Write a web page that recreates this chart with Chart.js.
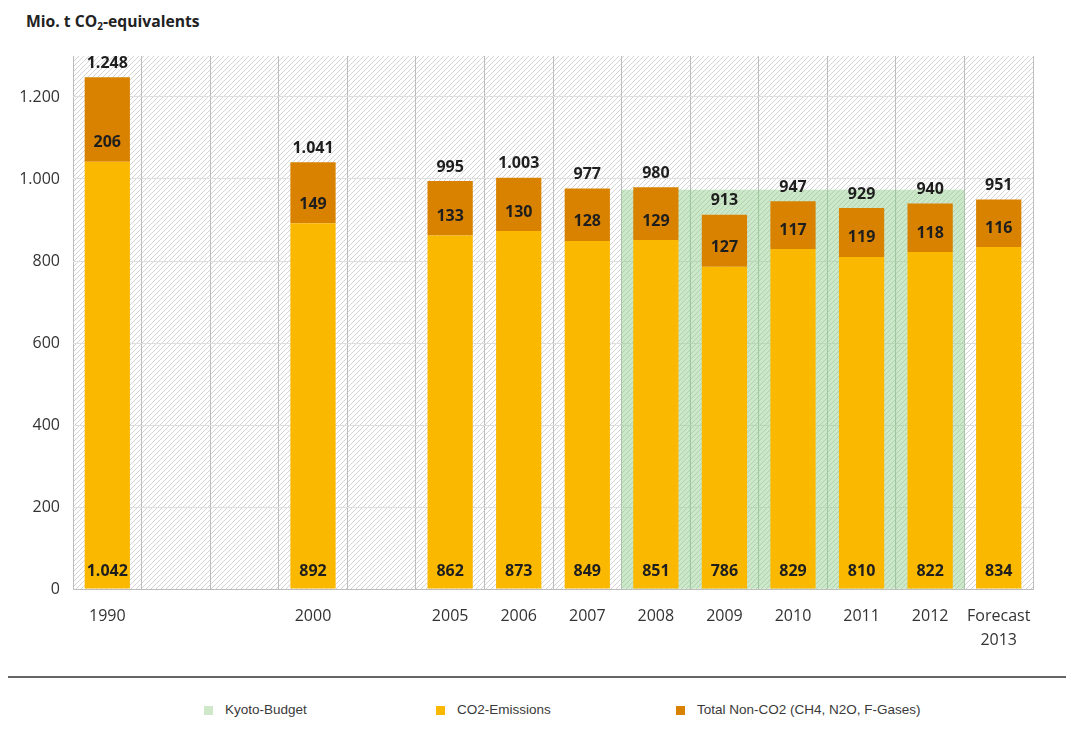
<!DOCTYPE html>
<html>
<head>
<meta charset="utf-8">
<script src="https://cdn.jsdelivr.net/npm/chart.js@4.4.1/dist/chart.umd.min.js"></script>
<style>
  body { margin: 0; background: #fff; width: 1074px; height: 736px; position: relative; overflow: hidden; font-family: "Open Sans", sans-serif; }
  #title { position: absolute; left: 26px; top: 10px; font-weight: bold; font-size: 15.7px; color: #222; }
  #title sub { font-size: 10px; vertical-align: -3px; line-height: 0; }
  #wrap { position: absolute; left: 0; top: 0; width: 1074px; height: 665px; }
  #legend { position: absolute; left: 8px; top: 676px; width: 1058px; height: 60px; border-top: 2px solid #666; }
  .item { position: absolute; top: 24px; font-family: "Liberation Sans Narrow", sans-serif; font-size: 13.5px; color: #3a3a3a; white-space: nowrap; }
  .item .box { display: inline-block; width: 9px; height: 9px; margin-right: 12px; vertical-align: -1px; }
</style>
</head>
<body>
<div id="title">Mio. t CO<sub>2</sub>-equivalents</div>
<div id="wrap"><canvas id="chart"></canvas></div>
<div id="legend"></div>
<script>
// values (Mio. t CO2-equivalents)
const categories = ['1990', '', '', '2000', '', '2005', '2006', '2007', '2008', '2009', '2010', '2011', '2012', ['Forecast', '2013']];
const co2 = [1042, null, null, 892, null, 862, 873, 849, 851, 786, 829, 810, 822, 834];
const nonCo2 = [206, null, null, 149, null, 133, 130, 128, 129, 127, 117, 119, 118, 116];
const totals = [1248, null, null, 1041, null, 995, 1003, 977, 980, 913, 947, 929, 940, 951];
const kyoto = [null, null, null, null, null, null, null, null, 973, 973, 973, 973, 973, null];
const yTicks = [0, 200, 400, 600, 800, 1000, 1200];

const colors = { kyoto: 'rgba(140, 205, 135, 0.45)', co2: '#FAB800', nonCo2: '#D98200' };
const legendColors = ['#cfe8ca', colors.co2, colors.nonCo2];

function fmt(v) {
  return String(v).replace(/\B(?=(\d{3})+(?!\d))/g, '.');
}

// hatched background of the plot area
const hatch = {
  id: 'hatch',
  beforeDraw(chart) {
    const { ctx, chartArea: a } = chart;
    const p = document.createElement('canvas');
    p.width = 5; p.height = 5;
    const pc = p.getContext('2d');
    pc.fillStyle = '#fff';
    pc.fillRect(0, 0, 5, 5);
    pc.strokeStyle = '#d4d4d4';
    pc.lineWidth = 1;
    pc.beginPath();
    pc.moveTo(0, 5); pc.lineTo(5, 0);
    pc.moveTo(-1, 1); pc.lineTo(1, -1);
    pc.moveTo(4, 6); pc.lineTo(6, 4);
    pc.stroke();
    ctx.save();
    ctx.fillStyle = ctx.createPattern(p, 'repeat');
    ctx.fillRect(a.left, a.top, a.right - a.left, a.bottom - a.top);
    ctx.restore();
  }
};

// value labels in and above the bars
const barLabels = {
  id: 'barLabels',
  afterDatasetsDraw(chart) {
    const ctx = chart.ctx;
    const y = chart.scales.y;
    const metaCo2 = chart.getDatasetMeta(1);
    const metaNon = chart.getDatasetMeta(2);
    ctx.save();
    ctx.font = 'bold 16px "Open Sans"';
    ctx.fillStyle = '#1e1e1e';
    ctx.textAlign = 'center';
    ctx.textBaseline = 'middle';
    co2.forEach((v, i) => {
      if (v == null) return;
      const x = metaCo2.data[i].x;
      ctx.fillText(fmt(v), x, y.getPixelForValue(0) - 18);
      ctx.fillText(fmt(nonCo2[i]), x, metaCo2.data[i].y - 19);
      ctx.fillText(fmt(totals[i]), x, metaNon.data[i].y - 14);
    });
    ctx.restore();
  }
};

const chart = new Chart(document.getElementById('chart'), {
  type: 'bar',
  data: {
    labels: categories,
    datasets: [
      {
        label: 'Kyoto-Budget',
        data: kyoto,
        backgroundColor: colors.kyoto,
        stack: 'kyoto',
        grouped: false,
        barPercentage: 1,
        categoryPercentage: 1,
        order: 2
      },
      {
        label: 'CO2-Emissions',
        data: co2,
        backgroundColor: colors.co2,
        stack: 'em',
        barPercentage: 0.66,
        categoryPercentage: 1,
        order: 1
      },
      {
        label: 'Total Non-CO2 (CH4, N2O, F-Gases)',
        data: nonCo2,
        backgroundColor: colors.nonCo2,
        stack: 'em',
        barPercentage: 0.66,
        categoryPercentage: 1,
        order: 1
      }
    ]
  },
  options: {
    responsive: true,
    maintainAspectRatio: false,
    animation: false,
    layout: { padding: { top: 56, right: 41, bottom: 0, left: 0 } },
    plugins: {
      legend: { display: false },
      tooltip: { enabled: false }
    },
    scales: {
      x: {
        stacked: true,
        afterFit: s => { s.height = 76; },
        grid: { color: '#bdbdbd', drawTicks: false, offset: true },
        border: { color: '#bdbdbd' },
        ticks: {
          padding: 15,
          autoSkip: false,
          maxRotation: 0,
          color: '#333',
          font: { family: 'Open Sans', size: 16, lineHeight: 1.5 }
        }
      },
      y: {
        stacked: true,
        min: 0,
        max: 1300,
        afterBuildTicks: s => { s.ticks = yTicks.map(v => ({ value: v })); },
        afterFit: s => { s.width = 73; },
        grid: { color: '#dedede', drawTicks: false },
        border: { display: false },
        ticks: {
          padding: 13,
          color: '#333',
          font: { family: 'Open Sans', size: 16 },
          callback: v => fmt(v)
        }
      }
    }
  },
  plugins: [hatch, barLabels]
});

// legend below the separator line
const legendLeft = [196, 428, 668];
const legendEl = document.getElementById('legend');
chart.data.datasets.forEach((ds, i) => {
  const item = document.createElement('div');
  item.className = 'item';
  item.style.left = legendLeft[i] + 'px';
  const box = document.createElement('span');
  box.className = 'box';
  box.style.background = legendColors[i];
  item.appendChild(box);
  item.appendChild(document.createTextNode(ds.label));
  legendEl.appendChild(item);
});
</script>
</body>
</html>
